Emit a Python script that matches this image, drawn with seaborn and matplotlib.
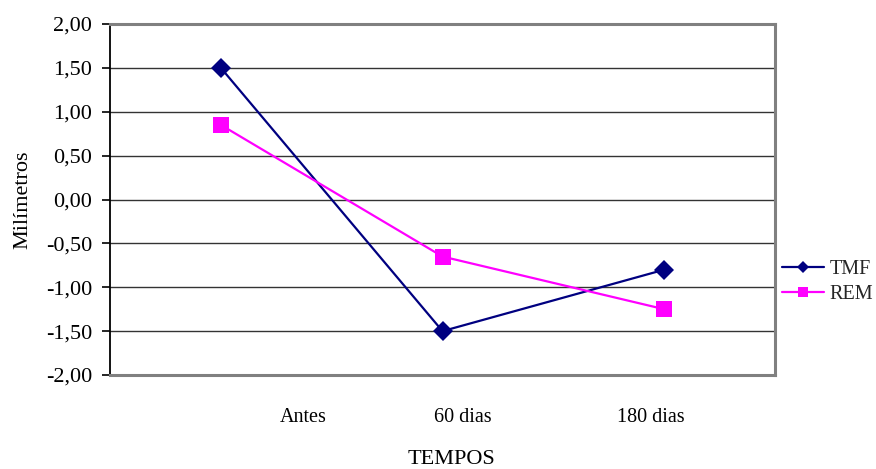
import matplotlib
matplotlib.use("Agg")
import matplotlib.pyplot as plt
import seaborn as sns
import pandas as pd
from matplotlib.ticker import FuncFormatter, MultipleLocator
from matplotlib.lines import Line2D

# Data
tempos = ["Antes", "60 dias", "180 dias"]
tmf = [1.50, -1.50, -0.80]
rem = [0.85, -0.65, -1.25]

sns.set_theme(style="white")
plt.rcParams["font.family"] = ["Liberation Serif", "DejaVu Serif"]

df = pd.DataFrame({
    "pos": [0, 1, 2] * 2,
    "Milimetros": tmf + rem,
    "Grupo": ["TMF"] * 3 + ["REM"] * 3,
})

fig = plt.figure(figsize=(8.76, 4.69), dpi=100)
ax = fig.add_axes([0.1256, 0.2004, 0.7591, 0.7484])

palette = {"TMF": "#000080", "REM": "#FF00FF"}
markers = {"TMF": "D", "REM": "s"}
sns.lineplot(data=df, x="pos", y="Milimetros", hue="Grupo", style="Grupo",
             palette=palette, markers=markers, dashes=False, linewidth=1.6,
             markeredgewidth=0, ax=ax, legend=False, zorder=3)
for line, size in zip(ax.lines, [10, 12]):
    line.set_markersize(size)

ax.set_xlim(-0.5, 2.5)
ax.set_ylim(-2.0, 2.0)
ax.yaxis.set_major_locator(MultipleLocator(0.5))
ax.yaxis.set_major_formatter(FuncFormatter(lambda v, p: f"{v:.2f}".replace(".", ",")))
# category labels sit slightly off the point columns, as in the spreadsheet layout
ax.set_xticks([0.37, 1.09, 1.94])
ax.set_xticklabels(tempos)

ax.grid(axis="y", color="#333333", linewidth=1.0)
ax.set_axisbelow(True)

for side in ["top", "right", "bottom"]:
    ax.spines[side].set_color("#808080")
    ax.spines[side].set_linewidth(2.2)
ax.spines["left"].set_color("black")
ax.spines["left"].set_linewidth(1.3)

ax.tick_params(axis="y", which="major", left=True, length=6, width=1.2,
               color="black", labelsize=16, pad=7, labelcolor="black")
ax.tick_params(axis="x", bottom=False, labelsize=14.5, pad=18, labelcolor="black")

ax.set_xlabel("")
ax.set_ylabel("")
fig.text(451 / 876, 1 - 459 / 469, "TEMPOS", fontsize=16, ha="center", va="center",
         color="black")
fig.text(23 / 876, 1 - 200 / 469, "Milímetros", fontsize=16, rotation=90,
         ha="center", va="center", color="black")

# Legend
handles = [
    Line2D([], [], color="#000080", marker="D", markersize=6, linewidth=1.6, markeredgewidth=0),
    Line2D([], [], color="#FF00FF", marker="s", markersize=7, linewidth=1.6, markeredgewidth=0),
]
fig.legend(handles, ["TMF", "REM"], loc="center left",
           bbox_to_anchor=(782 / 876, 1 - 282 / 469), frameon=False, fontsize=14.5,
           handlelength=2.1, handletextpad=0.25, labelspacing=0.3, borderpad=0,
           borderaxespad=0)

fig.savefig("out.png", dpi=100)
